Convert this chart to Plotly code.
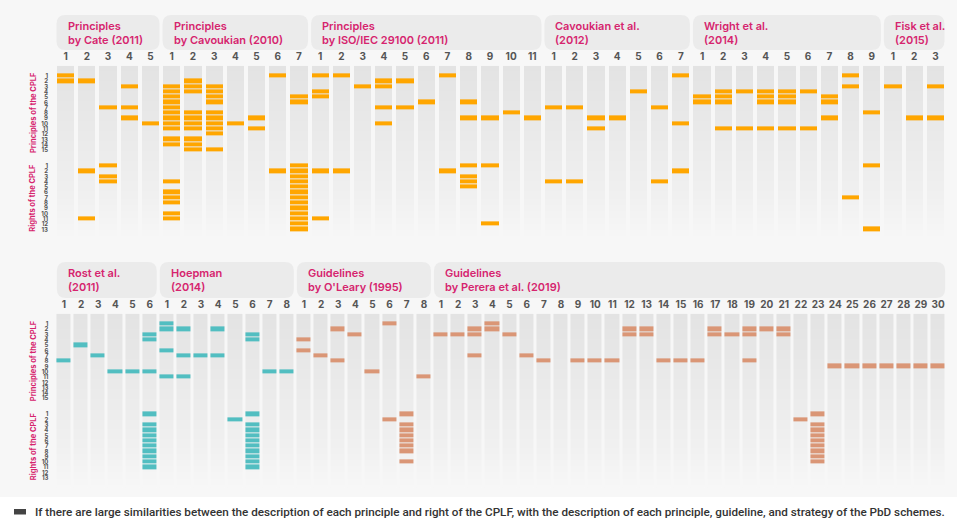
import plotly.graph_objects as go
import numpy as np

W, H = 957, 525

# ---------------- data ----------------
top_titles = [("Principles", "by Cate (2011)"), ("Principles", "by Cavoukian (2010)"),
              ("Principles", "by ISO/IEC 29100 (2011)"), ("Cavoukian et al.", "(2012)"),
              ("Wright et al.", "(2014)"), ("Fisk et al.", "(2015)")]
bottom_titles = [("Rost et al.", "(2011)"), ("Hoepman", "(2014)"),
                 ("Guidelines", "by O'Leary (1995)"), ("Guidelines", "by Perera et al. (2019)")]

cate_p = [[1, 2], [2], [7], [3, 7, 9], [10]]
cate_r = [[], [2, 11], [1, 3, 4], [], []]
cav10_p = [[3, 4, 5, 6, 7, 8, 9, 10, 11, 13, 14], [2, 3, 4, 8, 9, 10, 11, 13, 14, 15],
           [3, 4, 5, 6, 8, 9, 10, 11, 12, 15], [10], [9, 11], [1], [5, 6]]
cav10_r = [[4, 6, 7, 8, 10, 11], [], [], [], [], [2], [1, 2, 3, 4, 5, 6, 7, 8, 9, 10, 11, 12, 13]]
iso_p = [[1, 4, 5], [1], [3], [2, 3, 7, 10], [2, 7], [6], [1], [6, 9], [9], [8], [9]]
iso_r = [[2, 11], [2], [], [], [], [], [2], [1, 3, 4, 5], [1, 12], [], []]
cav12_p = [[7], [7], [9, 11], [9], [4], [7], [1, 10]]
cav12_r = [[4], [4], [], [], [], [4], [2]]
wright_p = [[5, 6], [4, 5, 6, 11], [4, 11], [4, 5, 6, 11], [4, 5, 6, 11], [4, 11], [5, 6, 9], [1, 3], [8]]
wright_r = [[], [], [], [], [], [], [], [7], [1, 13]]
fisk_p = [[3], [9], [3, 9]]
fisk_r = [[], [], []]

rost_p = [[8], [5], [7], [10], [10], [3, 4, 10]]
rost_r = [[], [], [], [], [], [1, 3, 4, 5, 6, 7, 8, 9, 10, 11]]
hoep_p = [[1, 2, 6, 11], [2, 7, 11], [7], [2, 7], [], [3, 4], [10], [10]]
hoep_r = [[], [], [], [], [2], [1, 3, 4, 5, 6, 7, 8, 9, 10, 11], [], []]
oleary_p = [[4, 6], [7], [2, 8], [3], [10], [1], [], [11]]
oleary_r = [[], [], [], [], [], [2], [1, 3, 4, 5, 6, 7, 8, 10], []]
perera_p = [[3], [3], [2, 3, 7], [1, 2], [3], [7], [8], [], [8], [8], [8], [2, 3], [2, 3],
            [8], [8], [8], [2, 3], [3], [2, 3, 8], [2], [2, 3], [], [],
            [9], [9], [9], [9], [9], [9], [9]]
perera_r = [[]] * 21 + [[2], [1, 3, 4, 5, 6, 7, 8, 9, 10]] + [[]] * 7

principle_labels = [str(i) for i in range(1, 16)]
right_labels = [str(i) for i in range(1, 14)]

ORANGE = "#FFA600"
TEAL = "#52BEC1"
SALMON = "#DA9676"
MAGENTA = "#D6246E"

top_sets = [(cate_p, cate_r, ORANGE), (cav10_p, cav10_r, ORANGE), (iso_p, iso_r, ORANGE),
            (cav12_p, cav12_r, ORANGE), (wright_p, wright_r, ORANGE), (fisk_p, fisk_r, ORANGE)]
bottom_sets = [(rost_p, rost_r, TEAL), (hoep_p, hoep_r, TEAL),
               (oleary_p, oleary_r, SALMON), (perera_p, perera_r, SALMON)]

NP, NR, GAP = len(principle_labels), len(right_labels), 2
NROWS = NP + GAP + NR


def prow(k):
    return k - 1


def rrow(k):
    return NP + GAP + k - 1


# ---------------- layout geometry (pixels) ----------------
panels = {
    "top": dict(sets=top_sets, titles=top_titles, x0=55.0, x1=946.0, y0=76.0, dy=5.29,
                hy=(15, 50), xgap=4, ax="x", ay="y"),
    "bottom": dict(sets=bottom_sets, titles=bottom_titles, x0=55.4, x1=946.6, y0=324.0, dy=5.31,
                   hy=(262, 298), xgap=3, ax="x2", ay="y2"),
}

fig = go.Figure()
shapes = []
annotations = []


def P(x, y):
    return x / W, 1 - y / H


def rounded_path(x0, y0, x1, y1, r):
    def p(x, y):
        a, b = P(x, y)
        return f"{a:.5f},{b:.5f}"
    return (f"M{p(x0 + r, y0)} L{p(x1 - r, y0)} Q{p(x1, y0)} {p(x1, y0 + r)} "
            f"L{p(x1, y1 - r)} Q{p(x1, y1)} {p(x1 - r, y1)} L{p(x0 + r, y1)} "
            f"Q{p(x0, y1)} {p(x0, y1 - r)} L{p(x0, y0 + r)} Q{p(x0, y0)} {p(x0 + r, y0)} Z")


# white strip for legend
shapes.append(dict(type="rect", xref="paper", yref="paper", x0=0, x1=1, y0=0, y1=1 - 497 / H,
                   fillcolor="white", line_width=0, layer="below"))

layout_axes = {}
for key, pnl in panels.items():
    sets = pnl["sets"]
    ncols = sum(len(s[0]) for s in sets)
    unit = (pnl["x1"] - pnl["x0"]) / ncols
    rtop, rbot = -2.0, 31.0
    ytop_px = pnl["y0"] + rtop * pnl["dy"]
    ybot_px = pnl["y0"] + rbot * pnl["dy"]

    col_labels = []
    zmats = {}
    start = 0
    for gi, (pl, rl, color) in enumerate(sets):
        n = len(pl)
        col_labels += [str(i + 1) for i in range(n)]
        if color not in zmats:
            zmats[color] = np.full((NROWS, ncols), np.nan)
        for j in range(n):
            for k in pl[j]:
                zmats[color][prow(k), start + j] = 1
            for k in rl[j]:
                zmats[color][rrow(k), start + j] = 1
        # header box
        xl = pnl["x0"] + start * unit + 1.5
        xr = pnl["x0"] + (start + n) * unit - 1.5
        hy0, hy1 = pnl["hy"]
        shapes.append(dict(type="path", xref="paper", yref="paper",
                           path=rounded_path(xl, hy0, xr, hy1, 9),
                           fillcolor="#EBEBEB", line_width=0, layer="below"))
        t1, t2 = pnl["titles"][gi]
        ax_, ay_ = P(xl + 9, hy0 + 17.5)
        annotations.append(dict(text=t1 + "<br>" + t2, x=ax_, y=ay_, xref="paper", yref="paper",
                                xanchor="left", yanchor="middle", align="left", showarrow=False,
                                font=dict(family="Inter", size=11, color=MAGENTA, weight=600)))
        start += n

    xs = list(range(ncols))
    yb = np.arange(-1.85, 30.9, 0.1)
    zb = np.tile(yb[:, None], (1, ncols))
    fig.add_trace(go.Heatmap(x=xs, y=yb, z=zb, xaxis=pnl["ax"], yaxis=pnl["ay"],
                             colorscale=[[0, "#E3E3E3"], [0.75, "#F0F0F0"], [1, "#F7F7F7"]],
                             showscale=False, xgap=pnl["xgap"], ygap=0, hoverinfo="skip"))
    for color, zm in zmats.items():
        fig.add_trace(go.Heatmap(x=xs, y=list(range(NROWS)), z=zm, xaxis=pnl["ax"], yaxis=pnl["ay"],
                                 colorscale=[[0, color], [1, color]], zmin=0, zmax=1,
                                 showscale=False, xgap=pnl["xgap"], ygap=1, hoverinfo="skip"))

    xdom = [pnl["x0"] / W, pnl["x1"] / W]
    ydom = [1 - ybot_px / H, 1 - ytop_px / H]
    xname = "xaxis" if pnl["ax"] == "x" else "xaxis2"
    yname = "yaxis" if pnl["ay"] == "y" else "yaxis2"
    layout_axes[xname] = dict(domain=xdom, range=[-0.5, ncols - 0.5], side="top",
                              tickvals=xs, ticktext=col_labels, showgrid=False, zeroline=False,
                              showline=False, ticks="", anchor=pnl["ay"],
                              tickfont=dict(family="Inter", size=10, color="#555555", weight=700),
                              ticklabelstandoff=2, fixedrange=True)
    yvals = [prow(k) for k in range(1, NP + 1)] + [rrow(k) for k in range(1, NR + 1)]
    layout_axes[yname] = dict(domain=ydom, range=[rbot, rtop], tickvals=yvals,
                              ticktext=principle_labels + right_labels, showgrid=False,
                              zeroline=False, showline=False, ticks="", anchor=pnl["ax"],
                              tickfont=dict(family="Inter", size=6, color="#555555", weight=700),
                              ticklabelstandoff=6, fixedrange=True)
    pc = pnl["y0"] + (prow(1) + prow(NP)) / 2 * pnl["dy"]
    rc = pnl["y0"] + (rrow(1) + rrow(NR)) / 2 * pnl["dy"]
    for txt, yy in (("Principles of the CPLF", pc), ("Rights of the CPLF", rc)):
        ax_, ay_ = P(33, yy)
        annotations.append(dict(text=txt, x=ax_, y=ay_, xref="paper", yref="paper",
                                textangle=-90, showarrow=False, xanchor="center", yanchor="middle",
                                font=dict(family="Inter", size=7.5, color=MAGENTA, weight=700)))

# legend
lx0, ly0 = P(14, 509)
lx1, ly1 = P(26, 514.5)
shapes.append(dict(type="rect", xref="paper", yref="paper", x0=lx0, x1=lx1, y0=ly1, y1=ly0,
                   fillcolor="#444444", line_width=0))
ax_, ay_ = P(33, 512)
annotations.append(dict(text="If there are large similarities between the description of each principle and right "
                             "of the CPLF, with the description of each principle, guideline, and strategy of the PbD schemes.",
                        x=ax_, y=ay_, xref="paper", yref="paper", xanchor="left", yanchor="middle",
                        showarrow=False, font=dict(family="Roboto", size=11.7, color="#333333", weight=500)))

fig.update_layout(width=W, height=H, margin=dict(l=0, r=0, t=0, b=0),
                  paper_bgcolor="#F7F7F7", plot_bgcolor="rgba(0,0,0,0)",
                  shapes=shapes, annotations=annotations, showlegend=False, **layout_axes)

fig.write_html("out.html", config={"displayModeBar": False},
               post_script="document.body.style.margin='0';document.body.style.padding='0';")
